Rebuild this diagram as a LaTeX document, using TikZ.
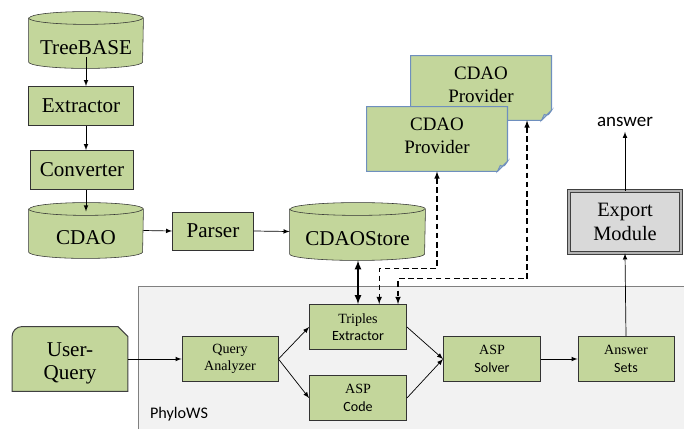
\documentclass[tikz,border=0pt]{standalone}
\usepackage{fontspec}
\setmainfont{Liberation Serif}
\newfontfamily\calibri{Carlito}
\usetikzlibrary{backgrounds}

\definecolor{boxgreen}{RGB}{195,214,155}
\definecolor{noteblue}{RGB}{110,143,190}
\definecolor{foldblue}{RGB}{165,190,200}
\definecolor{wsgray}{RGB}{242,242,242}
\definecolor{modgray}{RGB}{217,217,217}

% database drum round a node, #2 = half width
\newcommand{\drum}[2]{%
  \filldraw[drumbox] ([yshift=-0.16cm]#1.north west) -- ([yshift=0.16cm]#1.south west)
    arc[start angle=180, end angle=360, x radius=#2, y radius=0.16cm]
    -- ([yshift=-0.16cm]#1.north east)
    arc[start angle=0, end angle=180, x radius=#2, y radius=0.16cm] -- cycle;
  \draw[drumbox] ([yshift=-0.16cm]#1.north west)
    arc[start angle=180, end angle=360, x radius=#2, y radius=0.16cm];}
% note sheet with a folded lower right corner
\newcommand{\foldnote}[1]{%
  \filldraw[notebox] (#1.north west) -- (#1.north east) -- ([yshift=0.25cm]#1.south east)
    -- ([xshift=-0.25cm]#1.south east) -- (#1.south west) -- cycle;
  \filldraw[notefold] ([yshift=0.25cm]#1.south east)
    .. controls ([xshift=-0.08cm,yshift=0.12cm]#1.south east) .. ([xshift=-0.18cm,yshift=0.15cm]#1.south east)
    -- ([xshift=-0.25cm]#1.south east) -- cycle;}
% tab with a round and a cut corner
\newcommand{\querytab}[1]{%
  \filldraw[tabbox] (#1.south east) -- (#1.south west) [rounded corners=0.25cm] -- (#1.north west)
    [sharp corners] -- ([xshift=-0.25cm]#1.north east) -- ([yshift=-0.25cm]#1.north east) -- cycle;}

\begin{document}
\begin{tikzpicture}[x=0.025cm, y=-0.025cm, line width=0.6pt,
  box/.style={draw=black!80, fill=boxgreen, align=center},
  bigbox/.style={box, font=\fontsize{15}{17}\selectfont},
  smallbox/.style={box, font=\fontsize{10}{12.5}\selectfont, minimum width=2.425cm, minimum height=1.125cm},
  store/.style={font=\fontsize{15}{17}\selectfont, text height=20pt, text depth=0pt,
    minimum width=2.85cm, minimum height=1.4cm},
  drumbox/.style={draw=black!80, fill=boxgreen},
  sheet/.style={align=center, minimum width=3.5cm, minimum height=1.6cm},
  notebox/.style={draw=noteblue, fill=boxgreen, line width=0.8pt},
  notefold/.style={draw=noteblue, fill=foldblue, line width=0.6pt},
  tabbox/.style={draw=black!75, fill=boxgreen, line width=0.7pt},
  arr/.style={-latex, line width=0.5pt},
  dasharr/.style={latex-latex, dash pattern=on 4pt off 2.5pt, line width=0.8pt}]
  \useasboundingbox (0,0) rectangle (684,429);

  % web service area
  \fill[wsgray] (138,286) rectangle (684,429);
  \draw[gray] (138,429) -- (138,286) -- (684,286);
  \node[anchor=west, font=\calibri\fontsize{11.5}{13}\selectfont] (ws) at (145,414) {PhyloWS};

  % data preparation
  \node[store] (tb) at (86,40) {TreeBASE};
  \node[bigbox, minimum width=2.625cm, minimum height=0.975cm] (ext) at (81,106) {Extractor};
  \node[bigbox, minimum width=2.575cm, minimum height=0.975cm] (conv) at (82,170) {Converter};
  \node[store, minimum height=1.375cm] (cdao) at (86,230.5) {CDAO};
  \node[bigbox, minimum width=2.025cm, minimum height=0.95cm] (pars) at (213,231) {Parser};
  \node[store, minimum width=3.375cm, minimum height=1.425cm] (cs) at (357.5,231.5) {CDAOStore};

  % providers
  \node[sheet, text depth=4.5pt, font=\fontsize{13.5}{16.5}\selectfont] (pb) at (481,88) {CDAO\\Provider};
  \node[sheet, text depth=4.5pt, font=\fontsize{13.5}{16.5}\selectfont] (pf) at (437,139) {CDAO\\Provider};
  \node[sheet, text height=33pt, minimum width=2.875cm, font=\fontsize{15}{17}\selectfont] (uq) at (70,359) {User-\\Query};

  % export
  \node[bigbox, draw=black!75, fill=modgray, double=gray!60, double distance=1pt,
    minimum width=2.8cm, minimum height=1.55cm, font=\fontsize{14.5}{17}\selectfont] (em) at (625,222) {Export\\Module};
  \node[font=\calibri\fontsize{13.5}{15}\selectfont] (ans) at (625,122) {answer};

  % query processing
  \node[smallbox, minimum width=2.4cm] (qa) at (230,359) {Query\\Analyzer};
  \node[smallbox] (te) at (358,327) {Triples\\{\calibri Extractor}};
  \node[smallbox] (ac) at (358,398) {ASP\\{\calibri Code}};
  \node[smallbox] (as) at (492,359) {ASP\\{\calibri Solver}};
  \node[smallbox, minimum width=2.4cm] (asets) at (626,359) {Answer\\{\calibri Sets}};

  \begin{pgfonlayer}{background}
    \drum{tb}{1.425cm}
    \drum{cdao}{1.425cm}
    \drum{cs}{1.6875cm}
    \foldnote{pb}
    \foldnote{pf}
    \querytab{uq}
  \end{pgfonlayer}

  \draw[arr] ([yshift=0.28cm]tb.south) -- (tb.south |- ext.north);
  \draw[arr] (ext.south -| tb.south) -- (conv.north -| tb.south);
  \draw[arr] (conv.south -| tb.south) -- ([yshift=-0.22cm]cdao.north);
  \draw[arr] (cdao.east) -- (pars.west);
  \draw[arr] (pars.east) -- (cs.west);
  \draw[latex-latex, line width=1.2pt] (cs.south -| te.north) -- (te.north);
  \draw[dasharr] (pf.south) -- ++(0,97) -| ([xshift=0.53cm]te.north);
  \draw[dasharr] ([xshift=1.15cm]pb.south) -- ++(0,158.5) -| ([xshift=1cm]te.north);
  \draw[arr] (uq.east) -- (qa.west);
  \draw[arr] (qa.east) -- (te.west);
  \draw[arr] (qa.east) -- (ac.west);
  \draw[arr] (te.east) -- (as.west);
  \draw[arr] (ac.east) -- (as.west);
  \draw[arr] (as.east) -- (asets.west);
  \draw[arr] (asets.north) -- (em.south);
  \draw[arr] (em.north) -- (ans.south);
\end{tikzpicture}
\end{document}
